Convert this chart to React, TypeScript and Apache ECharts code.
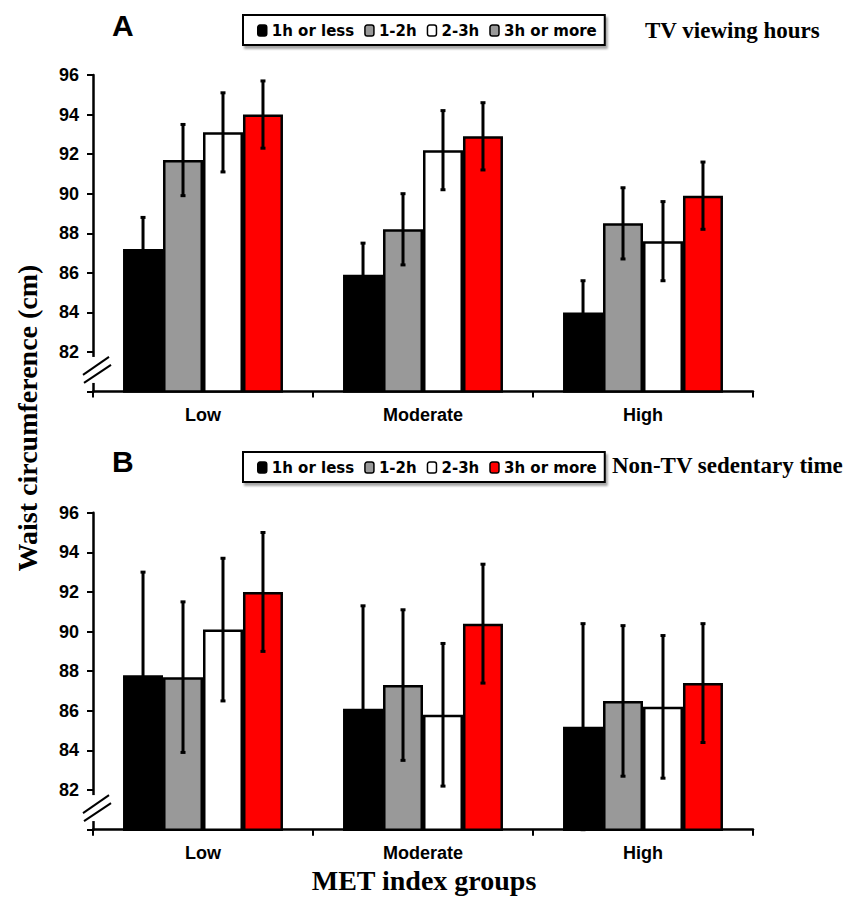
import React, { useEffect, useRef } from "react";
import * as echarts from "echarts";

const categories = ["Low", "Moderate", "High"];
const seriesNames = ["1h or less", "1-2h", "2-3h", "3h or more"];
const yTicks = [80, 82, 84, 86, 88, 90, 92, 94, 96];

// Panel A: TV viewing hours (means, and +/- error half-widths)
const tv1h = [87.2, 85.9, 84.0];
const tv12 = [91.7, 88.2, 88.5];
const tv23 = [93.1, 92.2, 87.6];
const tv3p = [94.0, 92.9, 89.9];
const tvErr1h = [1.6, 1.6, 1.6];
const tvErr12 = [1.8, 1.8, 1.8];
const tvErr23 = [2.0, 2.0, 2.0];
const tvErr3p = [1.7, 1.7, 1.7];

// Panel B: Non-TV sedentary time
const nt1h = [87.8, 86.1, 85.2];
const nt12 = [87.7, 87.3, 86.5];
const nt23 = [90.1, 85.8, 86.2];
const nt3p = [92.0, 90.4, 87.4];
const ntErr1h = [5.2, 5.2, 5.2];
const ntErr12 = [3.8, 3.8, 3.8];
const ntErr23 = [3.6, 3.6, 3.6];
const ntErr3p = [3.0, 3.0, 3.0];

const colors = ["#000000", "#999999", "#ffffff", "#ff0000"];
const GAP = 0.273;
const GRID_LEFT = 93;

export default function App() {
  const ref = useRef<HTMLDivElement>(null);
  useEffect(() => {
    if (!ref.current) return;
    const chart = echarts.init(ref.current, null, { renderer: "svg" });
    const panels = [
      { means: [tv1h, tv12, tv23, tv3p], errs: [tvErr1h, tvErr12, tvErr23, tvErr3p] },
      { means: [nt1h, nt12, nt23, nt3p], errs: [ntErr1h, ntErr12, ntErr23, ntErr3p] },
    ];
    const series: any[] = [];
    panels.forEach((p, gi) => {
      p.means.forEach((m, k) => {
        series.push({
          type: "bar",
          name: seriesNames[k],
          xAxisIndex: gi,
          yAxisIndex: gi,
          data: m,
          barGap: "0%",
          barCategoryGap: GAP * 100 + "%",
          itemStyle: { color: colors[k], borderColor: "#000", borderWidth: 2.5 },
          silent: true,
        });
      });
      const errData: any[] = [];
      p.means.forEach((m, k) => {
        m.forEach((v, c) => errData.push([c, v, p.errs[k][c], k]));
      });
      series.push({
        type: "custom",
        xAxisIndex: gi,
        yAxisIndex: gi,
        data: errData,
        encode: { x: 0, y: 1 },
        z: 10,
        silent: true,
        renderItem: (params: any, api: any) => {
          const c = api.value(0);
          const m = api.value(1);
          const e = api.value(2);
          const k = api.value(3);
          const band = api.size([1, 0])[0];
          const bw = (band * (1 - GAP)) / 4;
          const x = api.coord([c, m])[0] + (k - 1.5) * bw;
          const top = api.coord([c, m + e])[1];
          const bot = api.coord([c, m - e])[1];
          const st = { stroke: "#000", lineWidth: 3 };
          return {
            type: "group",
            children: [
              { type: "line", shape: { x1: x, y1: top, x2: x, y2: bot }, style: st },
              { type: "line", shape: { x1: x - 2.5, y1: top, x2: x + 2.5, y2: top }, style: st },
              { type: "line", shape: { x1: x - 2.5, y1: bot, x2: x + 2.5, y2: bot }, style: st },
            ],
          };
        },
      });
    });

    const axisLabelFont = { fontFamily: "Liberation Sans, Arial, sans-serif", fontWeight: "bold", fontSize: 18, color: "#000" };
    const mkX = (gi: number) => ({
      type: "category",
      gridIndex: gi,
      data: categories,
      axisLine: { lineStyle: { color: "#000", width: 2.5 } },
      axisTick: { show: true, length: 6, lineStyle: { color: "#000", width: 2 } },
      axisLabel: { ...axisLabelFont, margin: 14 },
    });
    const mkY = (gi: number) => ({
      type: "value",
      gridIndex: gi,
      min: yTicks[0],
      max: yTicks[yTicks.length - 1],
      interval: 2,
      splitLine: { show: false },
      axisLine: { show: true, lineStyle: { color: "#000", width: 2.5 } },
      axisTick: { show: true, length: 6, lineStyle: { color: "#000", width: 2 } },
      axisLabel: { ...axisLabelFont, margin: 14, formatter: (v: number) => (v === yTicks[0] ? "" : String(v)) },
    });

    const legendBase = {
      orient: "horizontal",
      left: 243,
      itemWidth: 9,
      itemHeight: 11,
      itemGap: 10,
      icon: "roundRect",
      padding: [8, 8, 7, 14],
      borderColor: "#000",
      borderWidth: 2,
      backgroundColor: "#fff",
      shadowColor: "rgba(0,0,0,0.35)",
      shadowOffsetX: 2,
      shadowOffsetY: 3,
      shadowBlur: 2,
      itemStyle: { borderColor: "#000", borderWidth: 1.5 },
      textStyle: { fontFamily: "DejaVu Sans, sans-serif", fontWeight: "bold", fontSize: 15, color: "#000" },
      selectedMode: false,
    };

    const titleSerif = { fontFamily: "Liberation Serif, Times New Roman, serif", fontWeight: "bold", color: "#000" };
    const titleSans = { fontFamily: "Liberation Sans, Arial, sans-serif", fontWeight: "bold", color: "#000", fontSize: 30 };

    const option: any = {
      animation: false,
      backgroundColor: "#fff",
      title: [
        { text: "A", left: 112, top: 10, textStyle: titleSans, padding: 0 },
        { text: "TV viewing hours", left: 645, top: 19, textStyle: { ...titleSerif, fontSize: 23 }, padding: 0 },
        { text: "B", left: 112, top: 446, textStyle: titleSans, padding: 0 },
        { text: "Non-TV sedentary time", left: 612, top: 454, textStyle: { ...titleSerif, fontSize: 23 }, padding: 0 },
        { text: "MET index groups", left: "center", top: 866, textStyle: { ...titleSerif, fontSize: 28 }, padding: 0 },
      ],
      legend: [
        {
          ...legendBase,
          top: 15,
          data: [
            { name: seriesNames[0] },
            { name: seriesNames[1] },
            { name: seriesNames[2] },
            { name: seriesNames[3], itemStyle: { color: "#999999" } },
          ],
        },
        {
          ...legendBase,
          top: 452,
          data: seriesNames.map((n) => ({ name: n })),
        },
      ],
      grid: [
        { left: GRID_LEFT, right: 95, top: 75, bottom: 506.5 },
        { left: GRID_LEFT, right: 95, top: 512.7, bottom: 68.3 },
      ],
      xAxis: [mkX(0), mkX(1)],
      yAxis: [mkY(0), mkY(1)],
      series,
    };
    chart.setOption(option);

    const graphic: any[] = [
      {
        type: "text",
        x: 27,
        y: 418,
        rotation: Math.PI / 2,
        z: 100,
        style: {
          text: "Waist circumference (cm)",
          font: "bold 28px 'Liberation Serif', 'Times New Roman', serif",
          fill: "#000",
          textAlign: "center",
          textVerticalAlign: "middle",
        },
      },
    ];
    [0, 1].forEach((gi) => {
      const y82 = chart.convertToPixel({ yAxisIndex: gi } as any, yTicks[1]) as number;
      const L = GRID_LEFT;
      graphic.push(
        { type: "rect", z: 100, shape: { x: L - 3, y: y82 + 5, width: 6, height: 26 }, style: { fill: "#fff" } },
        { type: "line", z: 101, shape: { x1: L - 10, y1: y82 + 23, x2: L + 16, y2: y82 + 5 }, style: { stroke: "#000", lineWidth: 2 } },
        { type: "line", z: 101, shape: { x1: L - 9, y1: y82 + 31, x2: L + 18, y2: y82 + 13 }, style: { stroke: "#000", lineWidth: 2 } }
      );
    });
    chart.setOption({ graphic });

    return () => chart.dispose();
  }, []);
  return <div ref={ref} style={{ position: "absolute", left: 0, top: 0, width: 848, height: 898 }} />;
}
